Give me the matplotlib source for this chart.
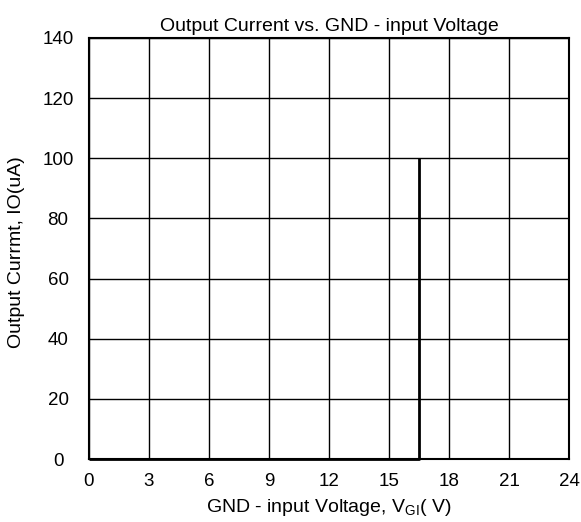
import matplotlib
matplotlib.use("Agg")
import matplotlib.pyplot as plt
import numpy as np

plt.rcParams['font.family'] = ['Liberation Sans', 'DejaVu Sans']
plt.rcParams['mathtext.fontset'] = 'custom'
plt.rcParams['mathtext.rm'] = 'Liberation Sans'

# data
voltage = [0, 16.5, 16.5]
current = [0, 0, 100]

x_ticks = [0, 3, 6, 9, 12, 15, 18, 21, 24]
y_ticks = [0, 20, 40, 60, 80, 100, 120, 140]

fig = plt.figure(figsize=(5.81, 5.22), dpi=100)
ax = fig.add_axes([89/581, 1-459/522, 480/581, 421/522])

ax.plot(voltage, current, color='black', lw=2, solid_capstyle='butt',
        clip_on=False, zorder=3)

ax.set_xlim(0, 24)
ax.set_ylim(0, 140)
ax.set_xticks(x_ticks)
ax.set_yticks(y_ticks)
ax.grid(True, color='black', lw=1)
ax.tick_params(length=0, labelsize=13.5)
ax.tick_params(axis='x', pad=10)
ax.tick_params(axis='y', pad=22.3)
for lab in ax.get_yticklabels():
    lab.set_ha('center')
for s in ax.spines.values():
    s.set_linewidth(1.5)

ax.set_title('Output Current vs. GND - input Voltage', fontsize=14, pad=5)
fig.text(329/581, 1-508/522, r'GND - input Voltage, V$_{\mathrm{GI}}$( V)',
         fontsize=14, ha='center', va='center')
fig.text(17/581, 1-252/522, 'Output Currmt, IO(uA)', fontsize=14,
         rotation=90, ha='center', va='center')

fig.savefig('out.png', dpi=100)
